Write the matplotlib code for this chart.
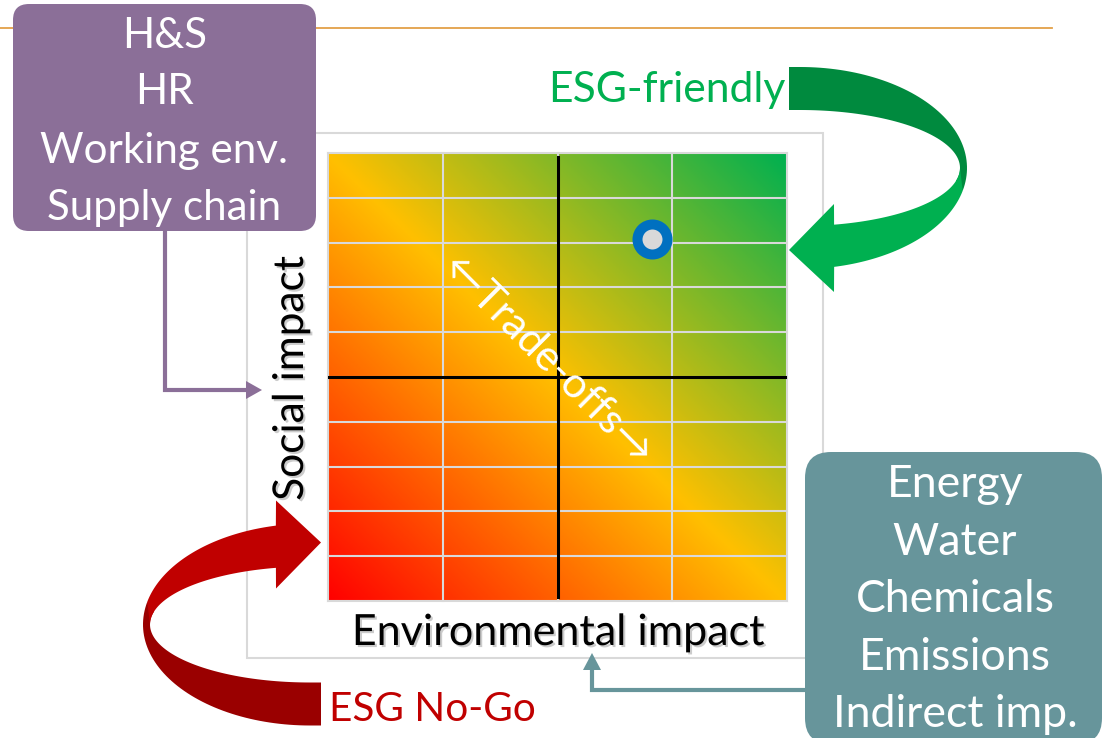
import numpy as np
import matplotlib
matplotlib.use("Agg")
import matplotlib.pyplot as plt
import matplotlib.patheffects as pe
from matplotlib.colors import LinearSegmentedColormap
from matplotlib.patches import FancyBboxPatch, Rectangle, Polygon

plt.rcParams["font.family"] = ["Lato", "DejaVu Sans"]

# texts
social_items = ["H&S", "HR", "Working env.", "Supply chain"]
env_items = ["Energy", "Water", "Chemicals", "Emissions", "Indirect imp."]
x_label = "Environmental impact"
y_label = "Social impact"
good_label = "ESG-friendly"
bad_label = "ESG No-Go"
tradeoff_label = "\u2190Trade-offs\u2192"

# matrix size (columns x rows) and the scored company
n_cols = 4
n_rows = 10
company_env = [2.82]
company_soc = [8.08]

PURPLE = "#8B6F98"
TEAL = "#67959B"
W, H = 1103, 738

fig = plt.figure(figsize=(W / 100, H / 100), dpi=100)
bg = fig.add_axes([0, 0, 1, 1])
bg.set_xlim(0, W)
bg.set_ylim(H, 0)
bg.axis("off")
renderer = fig.canvas.get_renderer()


def fit(t, width):
    # scale the font so the text is as wide as in the picture
    w = t.get_window_extent(renderer).width
    t.set_fontsize(t.get_fontsize() * width / w)
    return t.get_fontsize()


def curved_arrow(x0, y0, sx, sy, dark, light):
    # half-ellipse band with a head, built for the right side and mirrored
    def ring(a, b, deg):
        t = np.radians(deg)
        return np.column_stack([-167 + a * np.cos(t), -b * np.sin(t)])
    back = np.vstack([[[-178, -101]], ring(167, 101, np.linspace(90, -13, 60)),
                      ring(160, 58, np.linspace(-13, 90, 60)), [[-178, -58]]])
    front = np.vstack([ring(167, 101, np.linspace(-13, -78.2, 60)),
                       [[-133, 124], [-178, 82], [-133, 36]],
                       ring(160, 58, np.linspace(-77.7, 0, 60))])
    for pts, col in [(back, dark), (front, light)]:
        pts = pts * [sx, sy] + [x0, y0]
        bg.add_patch(Polygon(pts, closed=True, fc=col, ec="none", zorder=3))


# decorations
bg.plot([0, 1052], [28, 28], color="#E3A048", lw=1.3, zorder=1)
bg.add_patch(Rectangle((247, 133), 576, 525, fill=False, ec="#D9D9D9", lw=1.5, zorder=1))

bg.add_patch(FancyBboxPatch((13, 4), 303, 227, boxstyle="round,pad=0,rounding_size=16",
                            fc=PURPLE, ec="none", zorder=3))
bg.add_patch(FancyBboxPatch((805, 452), 297, 292, boxstyle="round,pad=0,rounding_size=26",
                            fc=TEAL, ec="none", zorder=3))

bg.plot([165, 165, 250], [231, 390, 390], color=PURPLE, lw=3, solid_joinstyle="miter", zorder=2)
bg.add_patch(Polygon([[246, 381], [262, 390], [246, 399]], fc=PURPLE, ec="none", zorder=2))
bg.plot([805, 592, 592], [690, 690, 668], color=TEAL, lw=3, solid_joinstyle="miter", zorder=2)
bg.add_patch(Polygon([[583, 670], [592, 653], [601, 670]], fc=TEAL, ec="none", zorder=2))

curved_arrow(967, 168, 1, 1, "#008A3E", "#00B050")
curved_arrow(143, 624.5, -1, -1, "#9A0000", "#C00000")

# box texts
s_txt = [bg.text(164.5, yb, s, color="white", fontsize=26, ha="center", va="baseline", zorder=4)
         for s, yb in zip(social_items, [48, 104, 163, 220])]
size = fit(s_txt[2], 248)
for t in s_txt:
    t.set_fontsize(size)

e_txt = [bg.text(955, yb, s, color="white", fontsize=26, ha="center", va="baseline", zorder=4)
         for s, yb in zip(env_items, [497, 555, 612, 670, 727])]
size = fit(e_txt[4], 244)
for t in e_txt:
    t.set_fontsize(size)

t = bg.text(548, 102, good_label, color="#00B050", fontsize=28, ha="left", va="baseline", zorder=4)
fit(t, 238)
t = bg.text(329, 721, bad_label, color="#C00000", fontsize=28, ha="left", va="baseline", zorder=4)
fit(t, 207)

shadow = [pe.withSimplePatchShadow(offset=(1.5, -1.5), shadow_rgbFace="#999999", alpha=0.5)]
t = bg.text(557.5, 645, x_label, color="black", fontsize=28, ha="center", va="baseline",
            path_effects=shadow, zorder=4)
fit(t, 413)
t = bg.text(303, 378.5, y_label, color="black", fontsize=28, ha="center", va="baseline",
            rotation_mode="anchor", path_effects=shadow, zorder=4)
fit(t, 245)
t.set_rotation(90)

# impact matrix
ax = fig.add_axes([328 / W, (H - 601) / H, 459 / W, 448 / H])
cmap = LinearSegmentedColormap.from_list("esg", ["#FF0000", "#FFC000", "#00B050"])
gx, gy = np.meshgrid(np.linspace(0, 1, 300), np.linspace(0, 1, 300))
ax.imshow((gx + gy) / 2, cmap=cmap, vmin=0, vmax=1, extent=[0, n_cols, 0, n_rows],
          origin="lower", aspect="auto", interpolation="bilinear")
for i in range(n_cols + 1):
    ax.axvline(i, color="#D9D9D9", lw=1.5, clip_on=False)
for j in range(n_rows + 1):
    ax.axhline(j, color="#D9D9D9", lw=1.5, clip_on=False)
ax.axvline(n_cols / 2, ymin=0.01, ymax=0.99, color="black", lw=2.2)
ax.axhline(n_rows / 2, color="black", lw=2.2)
ax.plot(company_env, company_soc, "o", ms=21.6, mew=7.2, mfc="#D9D9D9", mec="#0070C0")
ax.set_xlim(0, n_cols)
ax.set_ylim(0, n_rows)
ax.axis("off")

t = ax.text(0.479, 0.536, tradeoff_label, color="white", fontsize=24, ha="center", va="center",
            rotation_mode="anchor", transform=ax.transAxes)
fit(t, 281)
t.set_rotation(-45)

fig.savefig("out.png", dpi=100)
